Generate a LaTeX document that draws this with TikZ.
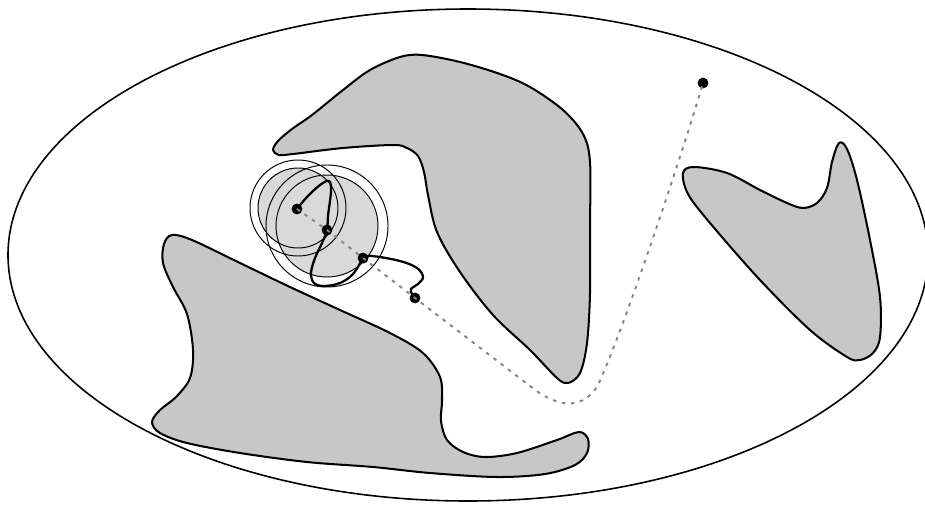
\documentclass[tikz,border=0pt]{standalone}
\usepackage{tikz}
\definecolor{blobgray}{gray}{0.78}
\definecolor{diskgray}{gray}{0.85}
\definecolor{dashgray}{gray}{0.52}

\begin{document}
\begin{tikzpicture}[x=0.02cm, y=-0.02cm,
    obstacle/.style={draw=black, line width=1.15pt, fill=blobgray, line join=round},
    ring/.style={draw=black, line width=0.55pt},
    robot/.style={circle, fill=black, inner sep=0pt, minimum size=6.2pt},
    motion/.style={line width=1.3pt, line cap=round},
    route/.style={draw=dashgray, line width=1.1pt, dash pattern=on 2pt off 3.2pt}]

        \useasboundingbox (0,0) rectangle (925,507);

        % Workspace
        \draw[line width=0.9pt] (468,255) ellipse [x radius=460, y radius=246];

        % Obstacles
        \draw[obstacle] plot[smooth cycle, tension=0.55] coordinates {
            (172,235) (192,240) (240,263) (290,287) (340,310) (390,333) (423,353)
            (440,377) (442,400) (441,421) (447,440) (463,452) (485,457) (517,453)
            (557,440) (579,432) (588,439) (587,453) (575,465) (545,474) (497,477)
            (430,473) (373,467) (307,462) (240,453) (187,443) (160,433) (152,422)
            (160,410) (176,397) (190,378) (193,350) (187,314) (173,287) (163,263) (164,244)};
        \draw[obstacle] plot[smooth cycle, tension=0.55] coordinates {
            (273,150) (278,141) (292,129) (312,115) (343,90) (370,70) (400,57)
            (422,55) (460,62) (500,74) (530,87) (563,110) (583,134) (590,162)
            (590,227) (590,293) (587,343) (580,373) (568,383) (557,378) (530,350)
            (493,315) (460,272) (437,232) (428,195) (424,172) (418,156) (407,148)
            (393,145) (343,148) (293,154) (279,155)};
        \draw[obstacle] plot[smooth cycle, tension=0.55] coordinates {
            (683,173) (694,167) (727,173) (760,190) (787,203) (803,208) (817,203)
            (827,188) (832,162) (839,143) (847,149) (857,180) (870,240) (880,297)
            (880,337) (873,353) (860,360) (847,357) (810,330) (760,280) (710,223)
            (688,194)};

        % Robot positions
        \coordinate (c1) at (298,208);
        \coordinate (c2) at (327,226);
        \node[robot] (P1) at (297,209) {};
        \node[robot] (P2) at (327,230) {};
        \node[robot] (P3) at (363,258) {};
        \node[robot] (P4) at (415,298) {};
        \node[robot] (T) at (703,83) {};

        % Sensing ranges
        \fill[diskgray] (c1) circle (40) (c2) circle (51);
        \draw[ring] (c1) circle (40) (c1) circle (48);
        \draw[ring] (c2) circle (51) (c2) circle (61);
        \node[robot] at (P1) {};
        \node[robot] at (P2) {};
        \node[robot] at (P3) {};

        % Executed motion
        \draw[motion] plot[smooth, tension=0.6] coordinates {
            (P1) (307,197) (320,185) (329,181) (331,191) (328,216) (P2)
            (322,243) (315,258) (311,273) (314,283) (324,286) (340,283) (353,274) (P3)};
        \draw[motion] plot[smooth, tension=0.6] coordinates {
            (P3) (372,256) (400,261) (417,268) (423,277) (418,284) (411,289) (412,294) (P4)};

        % Planned route
        \draw[route] (P1.center) -- (P2.center) -- (P3.center) -- (P4.center) -- (530,386)
            .. controls (555,406) and (580,412) .. (597,387)
            .. controls (620,340) and (682,155) .. (T.center);

\end{tikzpicture}
\end{document}
